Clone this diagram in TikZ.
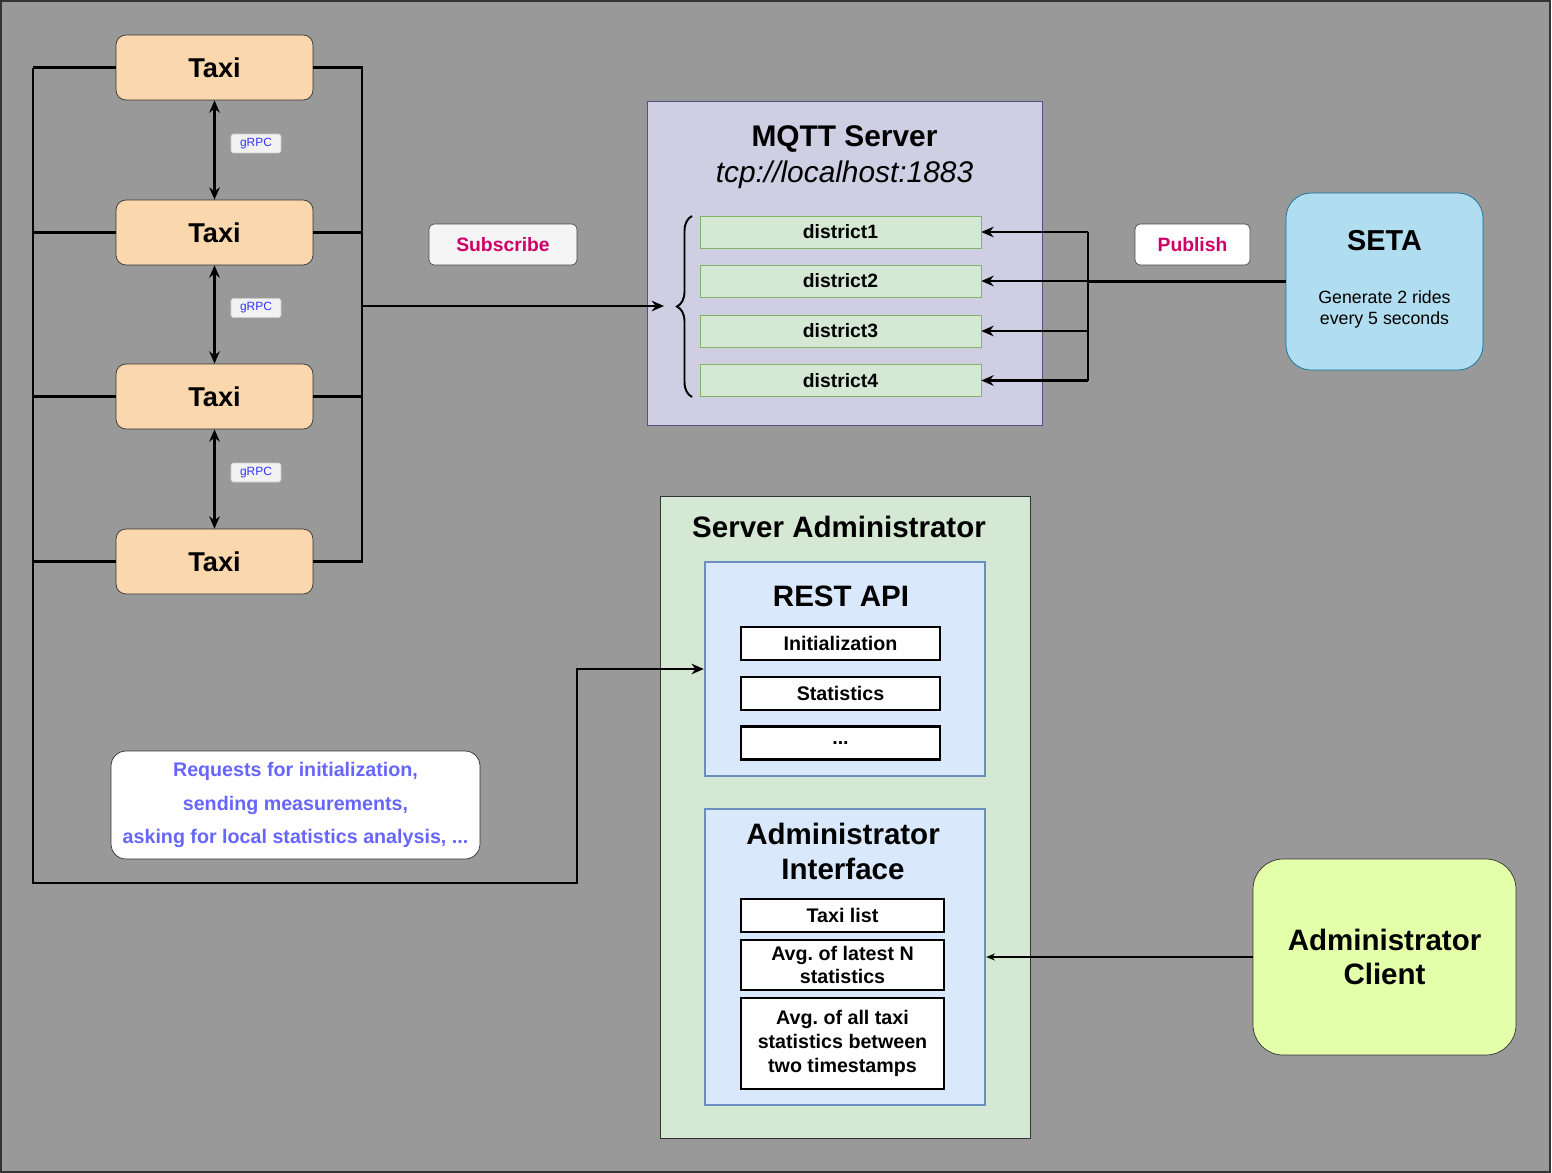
\documentclass[tikz,border=0pt]{standalone}
\usepackage{fontspec}
\setmainfont{Liberation Sans}
\frenchspacing
\usetikzlibrary{arrows.meta,positioning,decorations.pathreplacing,calc}

\definecolor{bggray}{HTML}{999999}
\definecolor{taxifill}{HTML}{FAD7AC}
\definecolor{mqttfill}{HTML}{D0CEE2}
\definecolor{mqttline}{HTML}{56517E}
\definecolor{greenfill}{HTML}{D5E8D4}
\definecolor{greenline}{HTML}{82B366}
\definecolor{bluefill}{HTML}{DAE8FC}
\definecolor{blueline}{HTML}{6C8EBF}
\definecolor{setafill}{HTML}{B1DDF0}
\definecolor{setaline}{HTML}{10739E}
\definecolor{clientfill}{HTML}{E4FFAA}
\definecolor{pubtext}{HTML}{CC0066}
\definecolor{reqtext}{HTML}{6666FF}
\definecolor{grpctext}{HTML}{3333FF}

\begin{document}
\begin{tikzpicture}[x=0.02cm, y=-0.02cm,  % one unit is one pixel of the reference
    taxi/.style={draw=black!80, fill=taxifill, rounded corners=0.2cm, minimum width=3.94cm, minimum height=1.3cm, font=\fontsize{15.5}{18}\selectfont\bfseries},
    bus/.style={line width=1.3pt},
    arr/.style={-{Stealth[length=7pt,width=6pt]}},
    grpc/.style={draw=black!20, fill=black!5, rounded corners=1pt, minimum width=1cm, minimum height=0.38cm, inner sep=0pt, text=grpctext, font=\fontsize{6.8}{8}\selectfont},
    tag/.style={draw=black!70, fill=white, rounded corners=0.1cm, minimum height=0.82cm, inner sep=0pt, text=pubtext, font=\fontsize{11}{13}\selectfont\bfseries},
    district/.style={draw=greenline, fill=greenfill, minimum width=5.62cm, minimum height=0.64cm, inner sep=0pt, font=\fontsize{11}{13}\selectfont\bfseries},
    item/.style={draw, line width=1.5pt, fill=white, inner sep=0pt, align=center, font=\fontsize{11.2}{13.6}\selectfont\bfseries},
    title/.style={font=\fontsize{16.8}{19.8}\selectfont\bfseries, align=center}]

    \useasboundingbox (0,0) rectangle (1552,1173);

    % Background
    \draw[fill=bggray, draw=black!80, line width=1pt] (1,1) rectangle (1550,1172);

    % Taxis
    \node[taxi] (taxi1) at (214.5,67.5) {Taxi};
    \node[taxi] (taxi2) at (214.5,232.5) {Taxi};
    \node[taxi] (taxi3) at (214.5,396.5) {Taxi};
    \node[taxi] (taxi4) at (214.5,561.5) {Taxi};

    \draw[bus, {Stealth[length=7pt,width=6pt]}-{Stealth[length=7pt,width=6pt]}] (taxi1) -- (taxi2);
    \draw[bus, {Stealth[length=7pt,width=6pt]}-{Stealth[length=7pt,width=6pt]}] (taxi2) -- (taxi3);
    \draw[bus, {Stealth[length=7pt,width=6pt]}-{Stealth[length=7pt,width=6pt]}] (taxi3) -- (taxi4);
    \node[grpc] (grpc1) at (256,143.5) {gRPC};
    \node[grpc] (grpc2) at (256,308) {gRPC};
    \node[grpc] (grpc3) at (256,472.5) {gRPC};

    % MQTT server
    \node[draw=mqttline, fill=mqttfill, minimum width=7.9cm, minimum height=6.48cm, inner sep=0pt] (mqtt) at (844.5,263) {};
    \node[title, font=\fontsize{17}{20}\selectfont\bfseries] (mqtttitle) at (844.5,139) {MQTT Server};
    \node[font=\fontsize{17}{20}\selectfont\itshape] (mqtturl) at (844.5,175) {tcp://localhost:1883};
    \node[district] (d1) at (840.5,232) {district1};
    \node[district] (d2) at (840.5,281) {district2};
    \node[district] (d3) at (840.5,331) {district3};
    \node[district] (d4) at (840.5,380.5) {district4};
    \draw[line width=1.1pt, decorate, decoration={brace, amplitude=0.3cm}] (692,397) -- (692,216);
    \coordinate (bracetip) at (664,306);

    % Subscribe side
    \coordinate (leftbus) at (33,67.5);
    \coordinate (rightbus) at (362,306);
    \draw[bus] (taxi1.east) -| (taxi4.east -| rightbus) -- (taxi4.east);
    \draw[bus] (taxi2.east) -- (taxi2.east -| rightbus);
    \draw[bus] (taxi3.east) -- (taxi3.east -| rightbus);
    \draw[bus, arr] (rightbus) -- (bracetip);
    \node[tag, fill=white!96!black, minimum width=2.96cm] (subscribe) at (503,244.5) {Subscribe};

    % SETA and publish side
    \node[draw=setaline, fill=setafill, rounded corners=0.5cm, minimum width=3.94cm, minimum height=3.54cm] (seta) at (1384.5,281.5) {};
    \node[title, font=\fontsize{16.4}{19}\selectfont\bfseries] (setatitle) at (1384.5,241) {SETA};
    \node[align=center, font=\fontsize{10.1}{11.9}\selectfont] (setatext) at (1384.5,309) {Generate 2 rides\\every 5 seconds};
    \coordinate (pubbus) at (1088,281.5);
    \draw[bus, line width=1.7pt] (seta.west) -- (pubbus);
    \draw[bus] (d1.east -| pubbus) -- (d4.east -| pubbus);
    \foreach \d in {d1,d2,d3,d4}
        \draw[bus, arr] (\d.east -| pubbus) -- (\d.east);
    \node[tag, minimum width=2.3cm] (publish) at (1192.5,244.5) {Publish};

    % Server administrator
    \node[draw=black!80, fill=greenfill, minimum width=7.4cm, minimum height=12.84cm, inner sep=0pt] (admin) at (845,817) {};
    \node[title] (admintitle) at (839,527) {Server Administrator};

    \node[draw=blueline, line width=1.4pt, fill=bluefill, minimum width=5.6cm, minimum height=4.28cm, inner sep=0pt] (rest) at (845,669) {};
    \node[title] (resttitle) at (841,596) {REST API};
    \node[item, minimum width=3.98cm, minimum height=0.66cm] (init) at (840.5,643.5) {Initialization};
    \node[item, minimum width=3.98cm, minimum height=0.66cm] (stats) at (840.5,693.5) {Statistics};
    \node[item, minimum width=3.98cm, minimum height=0.66cm] (more) at (840.5,743) {...};

    \node[draw=blueline, line width=1.4pt, fill=bluefill, minimum width=5.6cm, minimum height=5.92cm, inner sep=0pt] (adminif) at (845,957) {};
    \node[title] (adminiftitle) at (843,851.5) {Administrator\\Interface};
    \node[item, minimum width=4.06cm, minimum height=0.66cm] (taxilist) at (842.5,915.5) {Taxi list};
    \node[item, minimum width=4.06cm, minimum height=1cm] (avglatest) at (842.5,965) {Avg. of latest N\\statistics};
    \node[item, minimum width=4.06cm, minimum height=1.82cm] (avgall) at (842.5,1043.5) {Avg. of all taxi\\statistics between\\two timestamps};

    % Requests to the REST API
    \draw[bus] (taxi1.west) -- (leftbus);
    \draw[bus] (taxi2.west) -- (taxi2.west -| leftbus);
    \draw[bus] (taxi3.west) -- (taxi3.west -| leftbus);
    \draw[bus] (taxi4.west) -- (taxi4.west -| leftbus);
    \draw[bus, arr] (leftbus) -- (33,883) -- (577,883) |- (rest.west);
    \node[draw=black!80, fill=white, rounded corners=0.3cm, minimum width=7.38cm, minimum height=2.16cm, align=center, text=reqtext, font=\fontsize{11.2}{19.3}\selectfont\bfseries] (requests) at (295.5,805) {Requests for initialization,\\sending measurements,\\asking for local statistics analysis, ...};

    % Administrator client
    \node[draw=black!80, fill=clientfill, rounded corners=0.6cm, minimum width=5.26cm, minimum height=3.92cm, align=center, font=\fontsize{16.8}{19.8}\selectfont\bfseries] (client) at (1384.5,957) {Administrator\\Client};
    \draw[line width=0.6pt, -{Stealth[length=5pt,width=4pt]}] (client.west) -- (adminif.east);

\end{tikzpicture}
\end{document}
